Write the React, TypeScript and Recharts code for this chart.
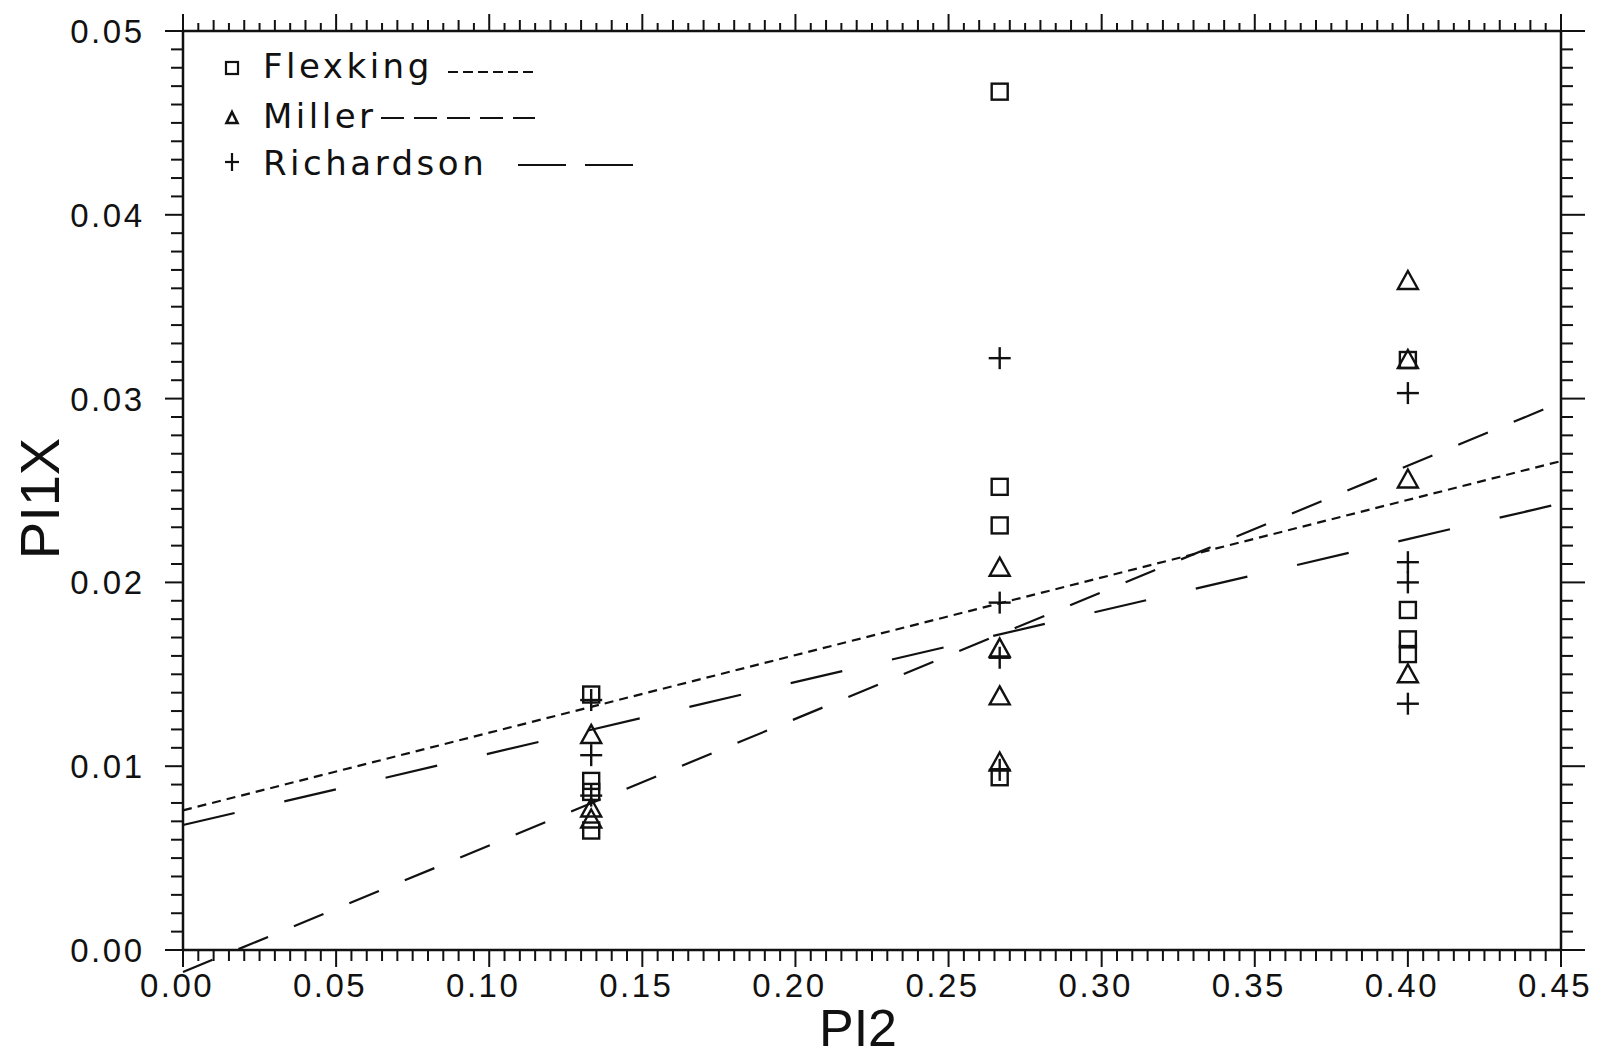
import React from 'react';
import { ScatterChart, Scatter, XAxis, YAxis, ReferenceLine, Legend } from 'recharts';

// PI2 level and PI1X reading for every plotted point, per correlation
const flexkingPi2 = [0.1333, 0.1333, 0.1333, 0.1333, 0.2667, 0.2667, 0.2667, 0.2667, 0.4, 0.4, 0.4, 0.4];
const flexkingPi1x = [0.0139, 0.0092, 0.0086, 0.0065, 0.0467, 0.0252, 0.0231, 0.0094, 0.0321, 0.0185, 0.0169, 0.0161];

const millerPi2 = [0.1333, 0.1333, 0.1333, 0.2667, 0.2667, 0.2667, 0.2667, 0.4, 0.4, 0.4, 0.4];
const millerPi1x = [0.0117, 0.0077, 0.0071, 0.0208, 0.0164, 0.0138, 0.0102, 0.0364, 0.0321, 0.0256, 0.015];

const richardsonPi2 = [0.1333, 0.1333, 0.1333, 0.2667, 0.2667, 0.2667, 0.2667, 0.4, 0.4, 0.4, 0.4];
const richardsonPi1x = [0.0136, 0.0106, 0.0084, 0.0322, 0.0189, 0.0159, 0.0098, 0.0303, 0.0211, 0.02, 0.0134];

// fitted lines, PI1X at both ends of the PI2 range
const fitPi2 = [0, 0.45];
const flexkingFit = [0.0076, 0.0266];
const millerFit = [-0.0012, 0.0298];
const richardsonFit = [0.0068, 0.0243];

const xMajorTicks = [0, 0.05, 0.1, 0.15, 0.2, 0.25, 0.3, 0.35, 0.4, 0.45];
const yMajorTicks = [0, 0.01, 0.02, 0.03, 0.04, 0.05];

const seriesNames = ['Flexking', 'Miller', 'Richardson'];

const FONT = '"Liberation Sans", Arial, sans-serif';
const LEGEND_FONT = '"DejaVu Sans", "Liberation Sans", sans-serif';
const INK = '#111';

const steps = (max: number, step: number) => {
  const out: number[] = [];
  for (let i = 0; i * step <= max + 1e-9; i++) out.push(Math.round(i * step * 10000) / 10000);
  return out;
};
const xMinorTicks = steps(0.45, 0.005);
const yMinorTicks = steps(0.05, 0.001);

const isIn = (v: number, list: number[]) => list.some(m => Math.abs(m - v) < 1e-7);
const onGrid = (v: number, step: number) => Math.abs(v / step - Math.round(v / step)) < 1e-6;

const toPoints = (xs: number[], ys: number[]) => xs.map((x, i) => ({ pi2: x, pi1x: ys[i] }));

const BottomTick = (props: any) => {
  const { x, y, payload } = props;
  const major = isIn(payload.value, xMajorTicks);
  return (
    <g>
      <line x1={x} y1={y} x2={x} y2={y + (major ? 17 : 11)} stroke={INK} strokeWidth={2} />
      {major && (
        <text x={x - 6} y={y + 47} textAnchor="middle" fontSize={33} letterSpacing={2.5} fill={INK} fontFamily={FONT}>
          {payload.value.toFixed(2)}
        </text>
      )}
    </g>
  );
};

const TopTick = (props: any) => {
  const { x, y, payload } = props;
  const len = onGrid(payload.value, 0.05) ? 17 : onGrid(payload.value, 0.01) ? 11 : 8;
  return <line x1={x} y1={y} x2={x} y2={y - len} stroke={INK} strokeWidth={2} />;
};

const LeftTick = (props: any) => {
  const { x, y, payload } = props;
  const major = isIn(payload.value, yMajorTicks);
  return (
    <g>
      <line x1={x} y1={y} x2={x - (major ? 18 : 12)} y2={y} stroke={INK} strokeWidth={2} />
      {major && (
        <text x={x - 38.5} y={y + 12} textAnchor="end" fontSize={33} letterSpacing={2.5} fill={INK} fontFamily={FONT}>
          {payload.value.toFixed(2)}
        </text>
      )}
    </g>
  );
};

const RightTick = (props: any) => {
  const { x, y, payload } = props;
  const major = isIn(payload.value, yMajorTicks);
  return <line x1={x} y1={y} x2={x + (major ? 24 : 12)} y2={y} stroke={INK} strokeWidth={2} />;
};

const Square = (props: any) => {
  const { cx, cy } = props;
  return <rect x={cx - 8} y={cy - 8} width={16} height={16} fill="none" stroke={INK} strokeWidth={2.4} />;
};

const Triangle = (props: any) => {
  const { cx, cy } = props;
  return <path d={`M${cx},${cy - 10} L${cx + 10},${cy + 8} L${cx - 10},${cy + 8} Z`} fill="none" stroke={INK} strokeWidth={2.4} />;
};

const Plus = (props: any) => {
  const { cx, cy } = props;
  return (
    <g stroke={INK} strokeWidth={2.4}>
      <line x1={cx - 11} y1={cy} x2={cx + 11} y2={cy} />
      <line x1={cx} y1={cy - 11} x2={cx} y2={cy + 11} />
    </g>
  );
};

const Nothing = () => <g />;

const legendMarks = [
  (cx: number, cy: number) => <rect x={cx - 6} y={cy - 6} width={12} height={12} fill="none" stroke={INK} strokeWidth={2.2} />,
  (cx: number, cy: number) => <path d={`M${cx},${cy - 6} L${cx + 5.5},${cy + 5} L${cx - 5.5},${cy + 5} Z`} fill="none" stroke={INK} strokeWidth={2.6} />,
  (cx: number, cy: number) => (
    <g stroke={INK} strokeWidth={2.2}>
      <line x1={cx - 7} y1={cy} x2={cx + 7} y2={cy} />
      <line x1={cx} y1={cy - 9} x2={cx} y2={cy + 9} />
    </g>
  ),
];
const legendRows = [
  { mark: 23, base: 33, dashY: 27, from: 233, to: 318, dash: '10 5' },
  { mark: 73, base: 83, dashY: 73, from: 166, to: 320, dash: '23 10' },
  { mark: 117, base: 130, dashY: 120, from: 303, to: 418, dash: '48 19' },
];

const LegendBox = () => (
  <svg width={440} height={140} style={{ display: 'block' }}>
    {seriesNames.map((name, i) => {
      const r = legendRows[i];
      return (
        <g key={name}>
          {legendMarks[i](17, r.mark)}
          <text x={48} y={r.base} fontSize={34} letterSpacing={3.5} fill={INK} fontFamily={LEGEND_FONT}>{name}</text>
          <line x1={r.from} y1={r.dashY} x2={r.to} y2={r.dashY} stroke={INK} strokeWidth={2} strokeDasharray={r.dash} />
        </g>
      );
    })}
  </svg>
);

const XTitle = (props: any) => {
  const { viewBox } = props;
  return (
    <text x={viewBox.x + viewBox.width / 2 - 14} y={viewBox.y + 96} textAnchor="middle" fontSize={52} fill={INK} fontFamily={FONT}>PI2</text>
  );
};

const YTitle = (props: any) => {
  const { viewBox } = props;
  const x = viewBox.x + 39;
  const y = viewBox.y + viewBox.height / 2 + 8;
  return (
    <text x={x} y={y} transform={`rotate(-90, ${x}, ${y})`} textAnchor="middle" dominantBaseline="central" fontSize={56} fill={INK} fontFamily={FONT}>PI1X</text>
  );
};

const fits = [
  { name: 'Flexking', ys: flexkingFit, dash: '9 6' },
  { name: 'Miller', ys: millerFit, dash: '32 28' },
  { name: 'Richardson', ys: richardsonFit, dash: '53 51' },
];

export default function App() {
  return (
    <div style={{ position: 'absolute', left: 0, top: 0, background: '#fff' }}>
      <ScatterChart width={1602} height={1058} margin={{ top: 1, right: 1, bottom: 8, left: 0 }} style={{ fontFamily: FONT }}>
        <XAxis
          xAxisId="bottom"
          dataKey="pi2"
          type="number"
          domain={[0, 0.45]}
          ticks={xMinorTicks}
          interval={0}
          height={100}
          tickSize={0}
          tickMargin={0}
          tickLine={false}
          tick={<BottomTick />}
          axisLine={{ stroke: INK, strokeWidth: 2.5 }}
          label={<XTitle />}
        />
        <XAxis
          xAxisId="top"
          dataKey="pi2"
          orientation="top"
          type="number"
          domain={[0, 0.45]}
          ticks={xMinorTicks}
          interval={0}
          height={30}
          tickSize={0}
          tickMargin={0}
          tickLine={false}
          tick={<TopTick />}
          axisLine={{ stroke: INK, strokeWidth: 2.5 }}
        />
        <YAxis
          yAxisId="left"
          dataKey="pi1x"
          type="number"
          domain={[0, 0.05]}
          ticks={yMinorTicks}
          interval={0}
          width={183}
          tickSize={0}
          tickMargin={0}
          tickLine={false}
          tick={<LeftTick />}
          axisLine={{ stroke: INK, strokeWidth: 2.5 }}
          label={<YTitle />}
        />
        <YAxis
          yAxisId="right"
          dataKey="pi1x"
          orientation="right"
          type="number"
          domain={[0, 0.05]}
          ticks={yMinorTicks}
          interval={0}
          width={40}
          tickSize={0}
          tickMargin={0}
          tickLine={false}
          tick={<RightTick />}
          axisLine={{ stroke: INK, strokeWidth: 2.5 }}
        />
        {fits.map(f => (
          <ReferenceLine
            key={f.name}
            xAxisId="bottom"
            yAxisId="left"
            segment={[{ x: fitPi2[0], y: f.ys[0] }, { x: fitPi2[1], y: f.ys[1] }]}
            stroke={INK}
            strokeWidth={2.2}
            strokeDasharray={f.dash}
            ifOverflow="visible"
          />
        ))}
        <Scatter name="frame" xAxisId="top" yAxisId="right" data={toPoints(flexkingPi2, flexkingPi1x)} shape={<Nothing />} legendType="none" isAnimationActive={false} />
        <Scatter name="Flexking" xAxisId="bottom" yAxisId="left" data={toPoints(flexkingPi2, flexkingPi1x)} shape={<Square />} isAnimationActive={false} />
        <Scatter name="Miller" xAxisId="bottom" yAxisId="left" data={toPoints(millerPi2, millerPi1x)} shape={<Triangle />} isAnimationActive={false} />
        <Scatter name="Richardson" xAxisId="bottom" yAxisId="left" data={toPoints(richardsonPi2, richardsonPi1x)} shape={<Plus />} isAnimationActive={false} />
        <Legend
          layout="vertical"
          align="center"
          verticalAlign="middle"
          content={<LegendBox />}
          wrapperStyle={{ left: 215, top: 45, width: 440, height: 140 }}
        />
      </ScatterChart>
    </div>
  );
}
